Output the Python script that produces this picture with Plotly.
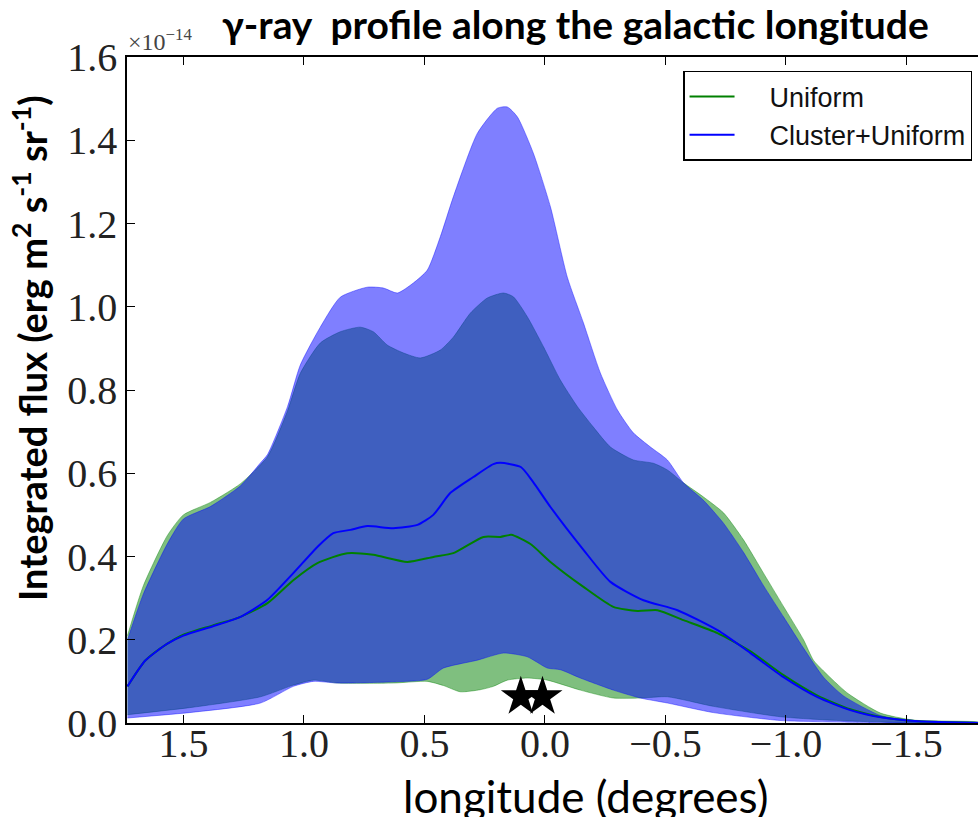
import plotly.graph_objects as go

# ---- data (flux in units of 1e-14 erg m^-2 s^-1 sr^-1) ----
lon_cu_upper = [1.732, 1.666, 1.567, 1.50, 1.388, 1.263, 1.18, 1.151, 1.068, 1.015, 0.932, 0.849, 0.737,
                0.670, 0.612, 0.546, 0.488, 0.434, 0.380, 0.280, 0.197, 0.156, 0.114, 0.048, -0.023,
                -0.093, -0.160, -0.230, -0.301, -0.367, -0.438, -0.508, -0.575, -0.658, -0.741, -0.824,
                -0.907, -0.990, -1.073, -1.156, -1.239, -1.392, -1.529, -1.80]
flux_cu_upper = [0.200, 0.31, 0.43, 0.49, 0.52, 0.57, 0.625, 0.645, 0.76, 0.86, 0.951, 1.023, 1.047,
                 1.045, 1.033, 1.057, 1.088, 1.168, 1.264, 1.417, 1.477, 1.480, 1.456, 1.369, 1.240,
                 1.071, 0.961, 0.841, 0.752, 0.697, 0.663, 0.632, 0.577, 0.535, 0.48, 0.41,
                 0.33, 0.255, 0.18, 0.11, 0.065, 0.018, 0.005, 0.001]
lon_cu_lower = [1.732, 1.459, 1.180, 1.044, 0.961, 0.861, 0.629, 0.488, 0.421, 0.280, 0.172, 0.073,
                -0.010, -0.064, -0.147, -0.284, -0.396, -0.508, -0.699, -0.977, -1.255, -1.80]
flux_cu_lower = [0.012, 0.026, 0.048, 0.088, 0.100, 0.096, 0.099, 0.105, 0.132, 0.151, 0.168, 0.159,
                 0.132, 0.128, 0.108, 0.079, 0.060, 0.048, 0.025, 0.006, 0.002, 0.0]

lon_u_upper = [1.732, 1.666, 1.567, 1.50, 1.388, 1.263, 1.151, 1.068, 1.015, 0.932, 0.849, 0.766, 0.712,
               0.654, 0.587, 0.517, 0.434, 0.380, 0.309, 0.239, 0.172, 0.131, 0.073, 0.006, -0.064,
               -0.135, -0.201, -0.272, -0.367, -0.450, -0.508, -0.575, -0.658, -0.741, -0.824, -0.907,
               -0.990, -1.073, -1.114, -1.156, -1.255, -1.392, -1.529, -1.80]
flux_u_upper = [0.21, 0.33, 0.45, 0.50, 0.53, 0.575, 0.64, 0.75, 0.84, 0.913, 0.94, 0.951, 0.94,
                0.908, 0.889, 0.877, 0.896, 0.927, 0.985, 1.021, 1.033, 1.024, 0.976, 0.904, 0.824,
                0.76, 0.711, 0.663, 0.632, 0.624, 0.608, 0.577, 0.543, 0.505, 0.44, 0.36,
                0.28, 0.20, 0.151, 0.125, 0.072, 0.024, 0.007, 0.002]
lon_u_lower = [1.732, 1.459, 1.180, 1.044, 0.961, 0.861, 0.629, 0.488, 0.421, 0.351, 0.268, 0.214,
               0.156, 0.073, -0.010, -0.147, -0.284, -0.396, -0.508, -0.699, -0.977, -1.255, -1.80]
flux_u_lower = [0.020, 0.038, 0.063, 0.091, 0.103, 0.096, 0.096, 0.100, 0.090, 0.075, 0.080, 0.088,
                0.103, 0.108, 0.103, 0.079, 0.060, 0.060, 0.063, 0.040, 0.015, 0.005, 0.0]

lon_cu_median = [1.732, 1.658, 1.568, 1.50, 1.38, 1.263, 1.151, 1.044, 0.944, 0.878, 0.807, 0.737,
                 0.629, 0.529, 0.463, 0.392, 0.297, 0.214, 0.185, 0.10, 0.05, -0.023, -0.160, -0.272,
                 -0.409, -0.550, -0.716, -0.853, -0.990, -1.131, -1.267, -1.4, -1.55, -1.80]
flux_cu_median = [0.088, 0.15, 0.19, 0.21, 0.232, 0.255, 0.296, 0.36, 0.423, 0.456, 0.464, 0.473,
                  0.468, 0.476, 0.50, 0.553, 0.591, 0.622, 0.625, 0.615, 0.58, 0.519, 0.416, 0.339,
                  0.295, 0.271, 0.223, 0.168, 0.11, 0.062, 0.031, 0.013, 0.004, 0.0]
lon_u_median = [1.732, 1.658, 1.568, 1.50, 1.38, 1.263, 1.151, 1.044, 0.944, 0.820, 0.712, 0.571,
                0.463, 0.380, 0.255, 0.185, 0.14, 0.06, -0.023, -0.160, -0.284, -0.384, -0.467,
                -0.575, -0.716, -0.853, -0.990, -1.131, -1.267, -1.4, -1.55, -1.80]
flux_u_median = [0.088, 0.15, 0.19, 0.212, 0.234, 0.255, 0.288, 0.343, 0.384, 0.408, 0.404, 0.387,
                 0.399, 0.408, 0.447, 0.447, 0.452, 0.43, 0.387, 0.327, 0.279, 0.269, 0.271,
                 0.247, 0.216, 0.172, 0.115, 0.066, 0.033, 0.014, 0.004, 0.0]

star_lon = [0.10, 0.01]
star_flux = [0.063, 0.063]

x_ticks = [1.5, 1.0, 0.5, 0.0, -0.5, -1.0, -1.5]
y_ticks = [0.0, 0.2, 0.4, 0.6, 0.8, 1.0, 1.2, 1.4, 1.6]

GREEN = "rgb(0,128,0)"
BLUE = "rgb(0,0,255)"
PAD = "\u00a0\u00a0\u00a0\u00a0"

fig = go.Figure()


def band(lon_up, f_up, lon_lo, f_lo, fillcol):
    return go.Scatter(
        x=list(lon_up) + list(lon_lo)[::-1],
        y=list(f_up) + list(f_lo)[::-1],
        fill="toself", fillcolor=fillcol, mode="lines",
        line=dict(color=fillcol, width=0.8, shape="spline", smoothing=0.6),
        showlegend=False, hoverinfo="skip")


fig.add_trace(band(lon_u_upper, flux_u_upper, lon_u_lower, flux_u_lower, "rgba(0,128,0,0.5)"))
fig.add_trace(band(lon_cu_upper, flux_cu_upper, lon_cu_lower, flux_cu_lower, "rgba(0,0,255,0.5)"))
fig.add_trace(go.Scatter(x=lon_u_median, y=flux_u_median, mode="lines", name=PAD + "Uniform",
                         line=dict(color=GREEN, width=2, shape="spline", smoothing=0.6)))
fig.add_trace(go.Scatter(x=lon_cu_median, y=flux_cu_median, mode="lines", name=PAD + "Cluster+Uniform",
                         line=dict(color=BLUE, width=2, shape="spline", smoothing=0.6)))
fig.add_trace(go.Scatter(x=star_lon, y=star_flux, mode="markers", showlegend=False,
                         marker=dict(symbol="star", size=30, color="black"), cliponaxis=False))

tickfont = dict(family="Liberation Serif", size=40, color="#222")
axis_common = dict(showline=True, linecolor="black", linewidth=1.5, ticks="inside", ticklen=8,
                   tickwidth=1, tickcolor="black", showgrid=False, zeroline=False, tickfont=tickfont)

fig.update_layout(
    width=978, height=817,
    margin=dict(l=127, r=0, t=57, b=94),
    plot_bgcolor="white", paper_bgcolor="white",
    xaxis=dict(range=[1.734, -1.797], tickvals=x_ticks, tickformat=".1f", mirror="ticks",
               **axis_common),
    yaxis=dict(range=[0, 1.6], tickvals=y_ticks, tickformat=".1f", mirror=False, **axis_common),
    legend=dict(x=0.993, y=0.979, xanchor="right", yanchor="top", bgcolor="white",
                bordercolor="black", borderwidth=1.5,
                font=dict(family="Liberation Sans", size=27, color="#111"),
                itemwidth=45),
    showlegend=True,
)
try:
    fig.update_xaxes(ticklabelstandoff=-16)
except ValueError:
    pass

fig.add_annotation(xref="paper", yref="paper", x=(160 - 127) / 851, y=(723 - 40) / 666,
                   xanchor="center", yanchor="middle",
                   text="×10<sup>−14</sup>", showarrow=False,
                   font=dict(family="Liberation Serif", size=24, color="#444"))
fig.add_annotation(xref="paper", yref="paper", x=(575 - 127) / 851, y=(723 - 24) / 666,
                   xanchor="center", yanchor="middle",
                   text="<b>γ-ray\u00a0 profile along the galactic longitude</b>", showarrow=False,
                   font=dict(family="Lato", size=39, color="black"))
fig.add_annotation(xref="paper", yref="paper", x=(585 - 127) / 851, y=(723 - 796) / 666,
                   xanchor="center", yanchor="middle",
                   text="longitude (degrees)", showarrow=False,
                   font=dict(family="Lato", size=44, color="black"))
fig.add_annotation(xref="paper", yref="paper", x=(30 - 127) / 851, y=(723 - 348) / 666,
                   xanchor="center", yanchor="middle",
                   text="<b>Integrated flux (erg m<sup>2</sup> s<sup>-1</sup> sr<sup>-1</sup>)</b>",
                   showarrow=False, textangle=-90,
                   font=dict(family="Lato", size=38, color="black"))

fig.write_html("out.html")
